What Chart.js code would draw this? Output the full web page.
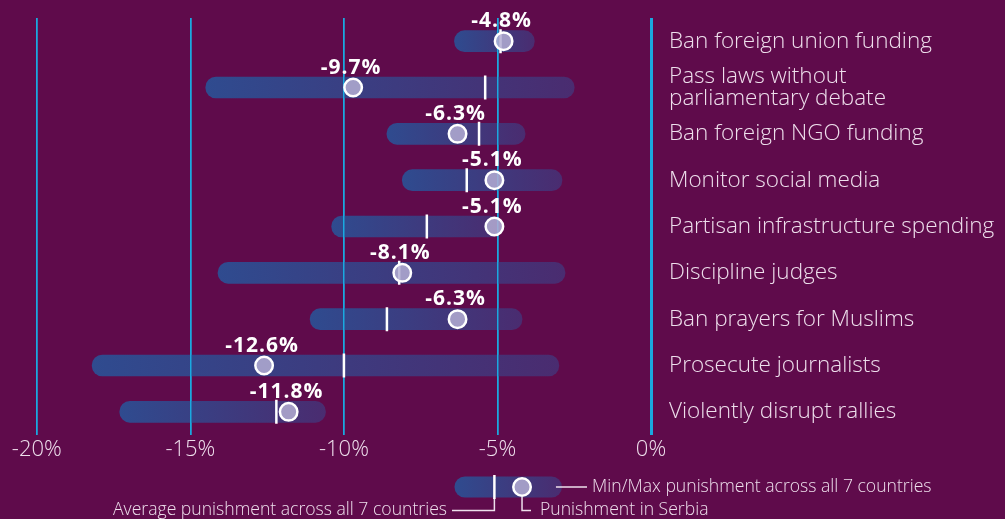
<!DOCTYPE html>
<html>
<head>
<meta charset="utf-8">
<script src="https://cdn.jsdelivr.net/npm/chart.js@4"></script>
<style>
    html, body { margin: 0; padding: 0; background: #5f0b4b; }
    #wrap { width: 1005px; height: 519px; }
</style>
</head>
<body>
<div id="wrap"><canvas id="punish-chart" width="1005" height="519"></canvas></div>
<script>
const categories = [
    'Ban foreign union funding',
    ['Pass laws without', 'parliamentary debate'],
    'Ban foreign NGO funding',
    'Monitor social media',
    'Partisan infrastructure spending',
    'Discipline judges',
    'Ban prayers for Muslims',
    'Prosecute journalists',
    'Violently disrupt rallies'
];
const minValues = [-6.4, -14.5, -8.6, -8.1, -10.4, -14.1, -11.1, -18.2, -17.3];
const maxValues = [-3.8, -2.5, -4.1, -2.9, -4.9, -2.8, -4.2, -3.0, -10.6];
const avgValues = [-4.9, -5.4, -5.6, -6.0, -7.3, -8.2, -8.6, -10.0, -12.2];
const serbiaValues = [-4.8, -9.7, -6.3, -5.1, -5.1, -8.1, -6.3, -12.6, -11.8];
const xTicks = [-20, -15, -10, -5, 0];

// sample values used only for the legend key
const legendRange = [-6.4, -2.9];
const legendAvg = -5.1;
const legendPoint = -4.2;

const BG = '#5f0b4b';
const GRID = '#1aa9e0';
const TEXT = '#eedfec';
const POINT_FILL = 'rgba(180, 174, 212, 0.85)';
const FONT = "'Open Sans', 'Noto Sans', sans-serif";

function barGradient(ctx, x0, x1) {
    const g = ctx.createLinearGradient(x0, 0, x1, 0);
    g.addColorStop(0, '#2f4b8f');
    g.addColorStop(1, '#4a2c70');
    return g;
}

const bgPlugin = {
    id: 'bg',
    beforeDraw(chart) {
        const c = chart.ctx;
        c.save();
        c.fillStyle = BG;
        c.fillRect(0, 0, chart.width, chart.height);
        c.restore();
    }
};

// the grid lines sit on top of the bars but under the markers
const gridOverBars = {
    id: 'gridOverBars',
    beforeDatasetDraw(chart, args) {
        if (args.index !== 1) return;
        chart.scales.x.drawGrid(chart.chartArea);
    }
};

// value labels above the Serbia points
const valueLabels = {
    id: 'valueLabels',
    afterDatasetsDraw(chart) {
        const meta = chart.getDatasetMeta(2);
        const c = chart.ctx;
        c.save();
        c.fillStyle = '#ffffff';
        c.font = "bold 21px " + FONT;
        c.letterSpacing = '1px';
        c.textAlign = 'center';
        c.textBaseline = 'alphabetic';
        meta.data.forEach((pt, i) => {
            c.fillText(serbiaValues[i].toFixed(1) + '%', pt.x - 2, pt.y - 14);
        });
        c.restore();
    }
};

// legend key below the axis
const legendKey = {
    id: 'legendKey',
    afterDraw(chart) {
        const x = chart.scales.x;
        const c = chart.ctx;
        const cy = 487;
        const x0 = x.getPixelForValue(legendRange[0]);
        const x1 = x.getPixelForValue(legendRange[1]);
        const xa = x.getPixelForValue(legendAvg);
        const xp = x.getPixelForValue(legendPoint);
        c.save();
        c.fillStyle = barGradient(c, x0, x1);
        c.beginPath();
        c.roundRect(x0, cy - 10.5, x1 - x0, 21, 10.5);
        c.fill();
        // connectors
        c.strokeStyle = TEXT;
        c.lineWidth = 1.5;
        c.beginPath();
        c.moveTo(x1 - 6, cy); c.lineTo(587, cy);
        c.moveTo(xa, cy + 11); c.lineTo(xa, 510.5); c.lineTo(452, 510.5);
        c.moveTo(xp, cy + 10); c.lineTo(xp, 510.5); c.lineTo(531, 510.5);
        c.stroke();
        // average marker
        c.strokeStyle = '#ffffff';
        c.lineWidth = 2.5;
        c.beginPath();
        c.moveTo(xa, cy - 12); c.lineTo(xa, cy + 12);
        c.stroke();
        // point
        c.fillStyle = POINT_FILL;
        c.beginPath();
        c.arc(xp, cy, 8.75, 0, Math.PI * 2);
        c.fill();
        c.stroke();
        // texts
        c.fillStyle = TEXT;
        c.font = "300 17.6px " + FONT;
        c.textBaseline = 'middle';
        c.textAlign = 'left';
        c.fillText('Min/Max punishment across all 7 countries', 592, cy);
        c.fillText('Punishment in Serbia', 540, 510);
        c.textAlign = 'right';
        c.fillText('Average punishment across all 7 countries', 447, 510);
        c.restore();
    }
};

const ctx = document.getElementById('punish-chart').getContext('2d');

new Chart(ctx, {
    type: 'bar',
    data: {
        labels: categories,
        datasets: [
            {
                type: 'bar',
                label: 'Min/Max',
                data: minValues.map((v, i) => [v, maxValues[i]]),
                backgroundColor: function (context) {
                    const chart = context.chart;
                    if (!chart.chartArea || context.dataIndex === undefined) return '#3a3c80';
                    const sx = chart.scales.x;
                    const i = context.dataIndex;
                    return barGradient(chart.ctx, sx.getPixelForValue(minValues[i]), sx.getPixelForValue(maxValues[i]));
                },
                barThickness: 21,
                borderRadius: 11,
                borderSkipped: false,
                order: 3
            },
            {
                type: 'line',
                label: 'Average',
                indexAxis: 'y',
                data: avgValues,
                showLine: false,
                pointStyle: 'line',
                rotation: 90,
                pointRadius: 12,
                borderColor: '#ffffff',
                pointBorderWidth: 2.5,
                order: 2
            },
            {
                type: 'line',
                label: 'Serbia',
                indexAxis: 'y',
                data: serbiaValues,
                showLine: false,
                pointRadius: 8.75,
                pointBackgroundColor: POINT_FILL,
                pointBorderColor: '#ffffff',
                pointBorderWidth: 2.5,
                order: 1
            }
        ]
    },
    options: {
        indexAxis: 'y',
        responsive: false,
        animation: false,
        events: [],
        layout: { autoPadding: false, padding: { top: 18, left: 0, right: 0, bottom: 54 } },
        plugins: {
            legend: { display: false },
            tooltip: { enabled: false }
        },
        scales: {
            x: {
                type: 'linear',
                min: -21.2,
                max: 0,
                afterBuildTicks: function (scale) {
                    scale.ticks = xTicks.map(v => ({ value: v }));
                },
                afterFit: function (scale) {
                    scale.paddingLeft = 0;
                    scale.paddingRight = 0;
                    scale.height = 30;
                },
                border: { display: false },
                grid: {
                    color: GRID,
                    drawTicks: false,
                    lineWidth: function (c) {
                        return c.tick && c.tick.value === 0 ? 3 : 1.5;
                    }
                },
                ticks: {
                    color: TEXT,
                    padding: 2,
                    maxRotation: 0,
                    font: { family: FONT, size: 22, weight: '300' },
                    callback: function (value) {
                        return value + '%';
                    }
                }
            },
            y: {
                type: 'category',
                position: 'right',
                grid: { display: false, drawTicks: false },
                border: { display: false },
                afterFit: function (scale) {
                    scale.width = 354;
                    scale.paddingTop = 0;
                    scale.paddingBottom = 0;
                },
                ticks: {
                    color: TEXT,
                    padding: 18,
                    autoSkip: false,
                    font: { family: FONT, size: 22.5, weight: '300', lineHeight: 0.98 }
                }
            }
        }
    },
    plugins: [bgPlugin, gridOverBars, valueLabels, legendKey]
});
</script>
</body>
</html>
